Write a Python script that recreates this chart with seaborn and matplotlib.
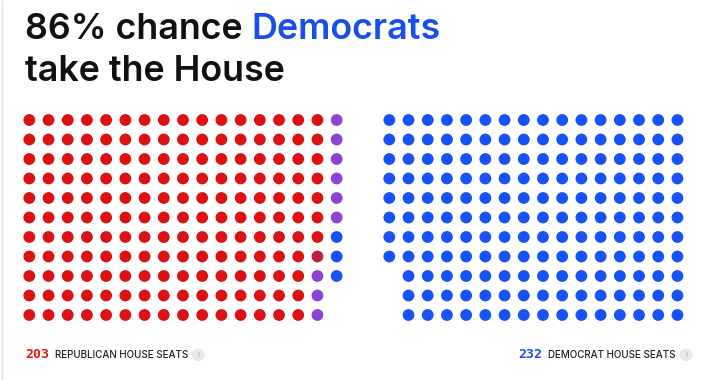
import matplotlib
matplotlib.use("Agg")
import matplotlib.pyplot as plt
import seaborn as sns
import pandas as pd
import numpy as np

# ---- data ----
left_categories = ["Republican", "Lean", "Toss-up", "Democrat"]
left_counts = [172, 1, 9, 3]
right_categories = ["Democrat"]
right_counts = [173]
rows_per_col = 11
left_cols = 17
right_cols = 16
rep_seats = 203
dem_seats = 232
title_line1 = "86% chance "
title_word = "Democrats"
title_line2 = "take the House"
rep_label = "REPUBLICAN HOUSE SEATS"
dem_label = "DEMOCRAT HOUSE SEATS"

palette = {"Republican": "#dc1111", "Lean": "#c01d40",
           "Toss-up": "#8b43d3", "Democrat": "#1652f5"}

W, H = 720, 380
# layout (pixel units)
x0_px, dx_px = 29.3, 19.21
y0_px, dy_px = 120.0, 19.5
right_offset = (389.3 - x0_px) / dx_px

def build(categories, counts, ncols, mirror, offset):
    recs = []
    k = 0
    for cat, n in zip(categories, counts):
        for _ in range(n):
            c, r = divmod(k, rows_per_col)
            col = (ncols - 1 - c) if mirror else c
            recs.append({"x": col + offset, "y": r, "cat": cat})
            k += 1
    return recs

df = pd.DataFrame(build(left_categories, left_counts, left_cols, False, 0)
                  + build(right_categories, right_counts, right_cols, True, right_offset))

sns.set_theme(style="white")
plt.rcParams["font.family"] = ["Inter", "DejaVu Sans"]

fig = plt.figure(figsize=(W / 100, H / 100), dpi=100)
fig.patch.set_facecolor("white")
ax = fig.add_axes([0, 0, 1, 1])
ax.set_facecolor("none")

sns.scatterplot(data=df, x="x", y="y", hue="cat", palette=palette, s=72,
                linewidth=0, legend=False, ax=ax)

ax.set_xlim(-x0_px / dx_px, (W - x0_px) / dx_px)
ax.set_ylim((H - y0_px) / dy_px, -y0_px / dy_px)
ax.axis("off")

# left border line
fig.add_artist(plt.Line2D([1.5 / W, 1.5 / W], [0, 1], color="#e4e4e4", lw=1))

def fx(px):
    return px / W

def fy(py):
    return 1 - py / H

fig.canvas.draw()
renderer = fig.canvas.get_renderer()

tkw = dict(fontsize=25.8, fontweight="semibold", va="baseline", ha="left")
t1 = fig.text(fx(25), fy(39), title_line1, color="#111111", **tkw)
bb = t1.get_window_extent(renderer)
fig.text(bb.x1 / W, fy(39), title_word, color="#1a4ee8", **tkw)
fig.text(fx(25), fy(81), title_line2, color="#111111", **tkw)

icon = dict(fontsize=5.5, color="#a0a0a0", va="center", ha="center",
            bbox=dict(boxstyle="circle,pad=0.45", fc="#e9e9e9", ec="none"))

# footer left
n1 = fig.text(fx(25), fy(358), str(rep_seats), fontsize=9.5, fontweight="bold",
              color="#e01818", va="baseline", ha="left",
              family=["DejaVu Sans Mono"])
bb = n1.get_window_extent(renderer)
l1 = fig.text((bb.x1 + 6) / W, fy(358), rep_label, fontsize=7.1,
              fontweight="medium", color="#222222", va="baseline", ha="left")
bb = l1.get_window_extent(renderer)
fig.text((bb.x1 + 10) / W, fy(355), "i", **icon)

# footer right
l2 = fig.text(fx(675), fy(358), dem_label, fontsize=7.1, fontweight="medium",
              color="#222222", va="baseline", ha="right")
bb = l2.get_window_extent(renderer)
fig.text((bb.x0 - 5) / W, fy(358), str(dem_seats), fontsize=9.5,
         fontweight="bold", color="#1a4ee8", va="baseline", ha="right",
         family=["DejaVu Sans Mono"])
fig.text(fx(686), fy(355), "i", **icon)

fig.savefig("out.png", dpi=100, facecolor="white")
